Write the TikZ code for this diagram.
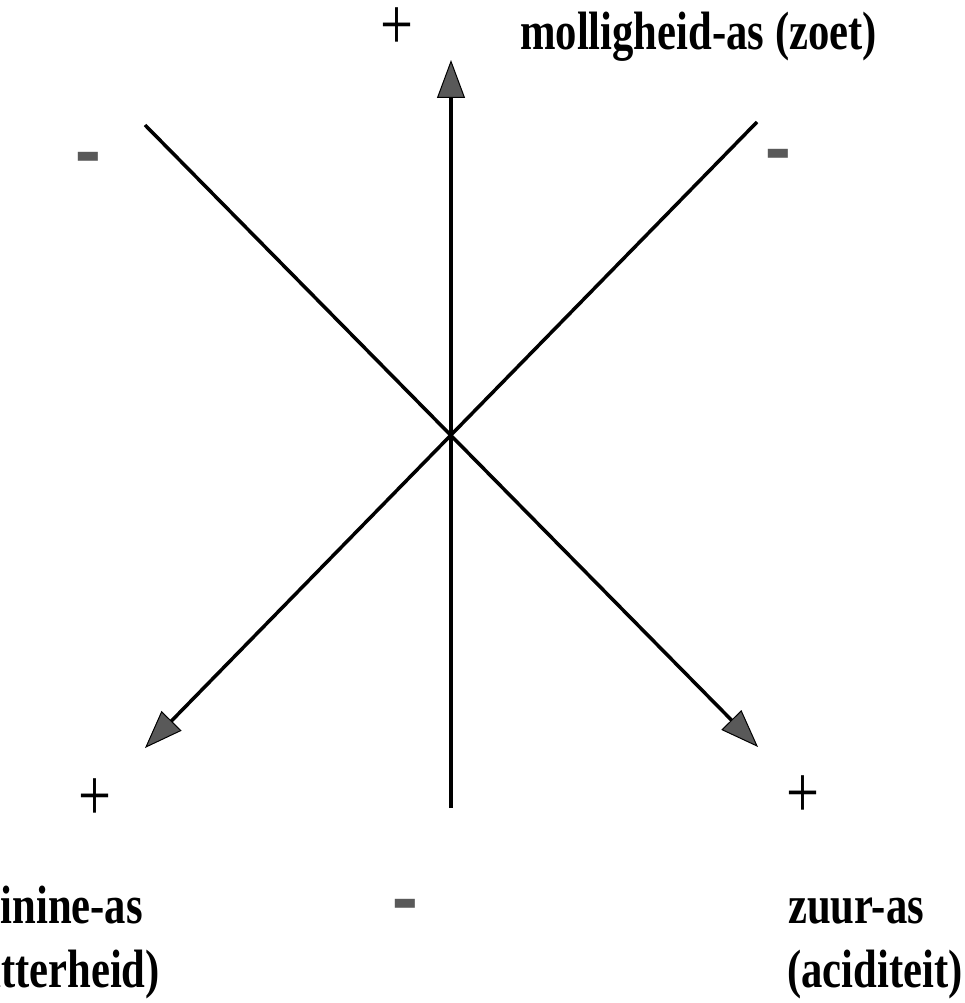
\documentclass[tikz,border=0pt]{standalone}
\usepackage{fontspec}
\setmainfont{Liberation Serif}
\newfontfamily\asfont[FakeStretch=0.79]{Liberation Serif}
\usetikzlibrary{arrows.meta}

\begin{document}
\begin{tikzpicture}[x=1pt,y=-1pt,
    as/.style={line width=3.5pt,-{Triangle[length=38pt,width=28pt,line width=1pt,fill=black!65]}},
    plusteken/.style={font=\asfont\fontsize{74}{74}\selectfont,inner sep=0pt},
    minteken/.style={font=\fontsize{70}{70}\selectfont\bfseries,text=black!65,inner sep=0pt},
    aslabel/.style={font=\asfont\fontsize{54}{60}\selectfont\bfseries,inner sep=0pt}]
                \useasboundingbox (0,0) rectangle (965,1003);
                % assen
                \coordinate (onder) at (451,808);
                \coordinate (boven) at (451,60);
                \coordinate (lb) at (145,125);
                \coordinate (ro) at (758,747);
                \coordinate (rb) at (757,122);
                \coordinate (lo) at (145,748);
                \draw[as] (onder) -- (boven);
                \draw[as] (lb) -- (ro);
                \draw[as] (rb) -- (lo);
                % tekens
                \node[plusteken] (plusboven) at (397,29) {+};
                \node[plusteken] (pluslinks) at (95,800) {+};
                \node[plusteken] (plusrechts) at (803,797) {+};
                \node[minteken] (minlb) at (88,167) {\scalebox{1.1}[1.5]{-}};
                \node[minteken] (minrb) at (778,164) {\scalebox{1.1}[1.5]{-}};
                \node[minteken] (minonder) at (405,914) {\scalebox{1.1}[1.5]{-}};
                % labels
                \node[aslabel,anchor=base west] (zoet) at (520,50) {molligheid-as (zoet)};
                \node[aslabel,anchor=base west] (zuur) at (788,923) {zuur-as};
                \node[aslabel,anchor=base west] (zuur2) at (787,987) {(aciditeit)};
                \node[aslabel,anchor=base east] (bitter) at (143,923) {kinine-as};
                \node[aslabel,anchor=base east] (bitter2) at (160,987) {(bitterheid)};
            \end{tikzpicture}
\end{document}
